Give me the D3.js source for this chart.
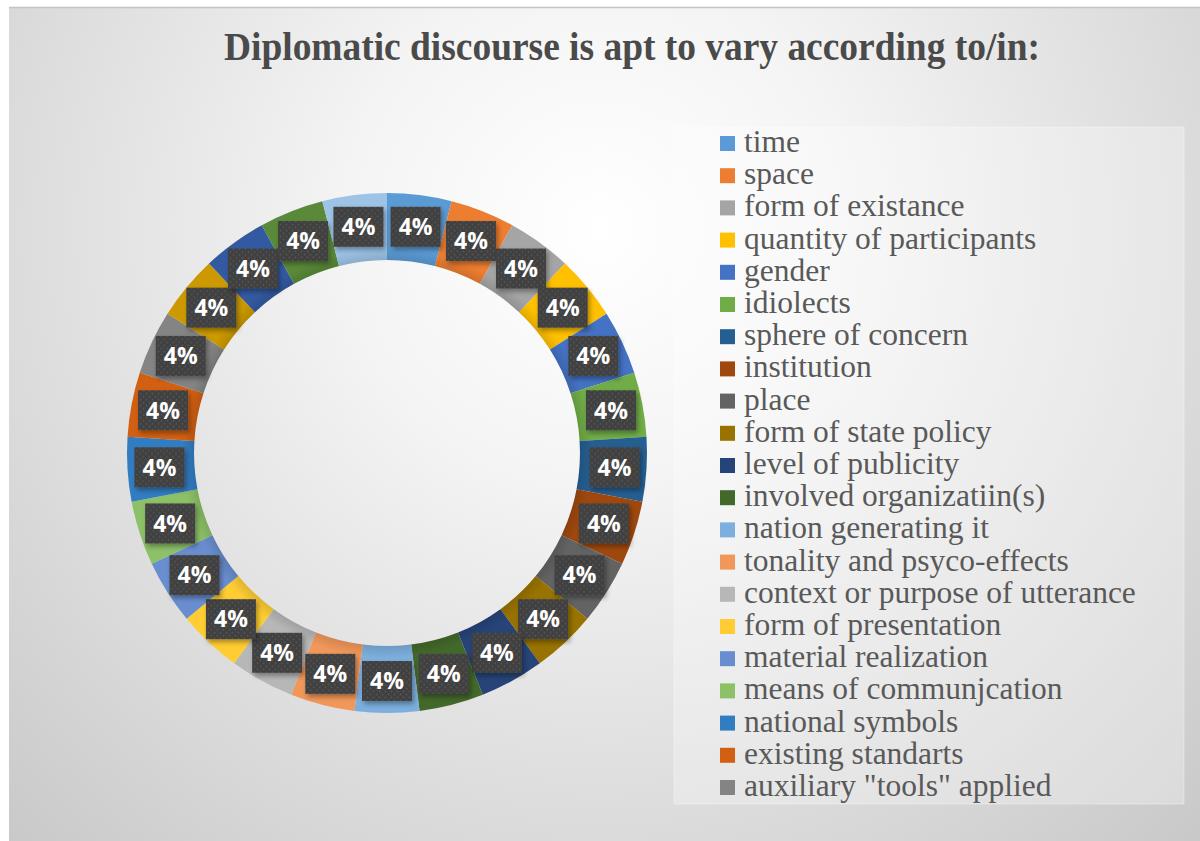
<!DOCTYPE html>
<html>
<head>
<meta charset="utf-8">
<script src="https://cdn.jsdelivr.net/npm/d3@7"></script>
<style>
  html, body { margin: 0; padding: 0; background: #ffffff; }
  svg { display: block; }
</style>
</head>
<body>
<svg id="chart" width="1200" height="841"></svg>
<script>
// ---- data ----
const title = "Diplomatic discourse is apt to vary according to/in:";
const categories = [
  "time", "space", "form of existance", "quantity of participants", "gender",
  "idiolects", "sphere of concern", "institution", "place", "form of state policy",
  "level of publicity", "involved organizatiin(s)", "nation generating it",
  "tonality and psyco-effects", "context or purpose of utterance", "form of presentation",
  "material realization", "means of communjcation", "national symbols",
  "existing standarts", "auxiliary \"tools\" applied",
  "(not shown in legend 22)", "(not shown in legend 23)", "(not shown in legend 24)", "(not shown in legend 25)"
];
const values = [4,4,4,4,4,4,4,4,4,4,4,4,4,4,4,4,4,4,4,4,4,4,4,4,4];
const legendCount = 21; // legend box only shows the first 21 entries
const colors = [
  "#5B9BD5", "#ED7D31", "#A5A5A5", "#FFC000", "#4472C4", "#70AD47",
  "#255E91", "#9E480E", "#636363", "#997300", "#264478", "#43682B",
  "#7CAFDD", "#F1975A", "#B7B7B7", "#FFCD33", "#698ED0", "#8CC168",
  "#327DC2", "#D26012", "#848484", "#CC9A00", "#335AA1", "#5A8A39", "#9DC3E6"
];

// ---- drawing ----
const svg = d3.select("#chart");
const defs = svg.append("defs");

const bg = defs.append("radialGradient").attr("id", "bg")
  .attr("gradientUnits", "userSpaceOnUse")
  .attr("cx", 600).attr("cy", 230).attr("r", 850);
bg.append("stop").attr("offset", "0").attr("stop-color", "#ffffff");
bg.append("stop").attr("offset", "0.3").attr("stop-color", "#f4f4f4");
bg.append("stop").attr("offset", "1").attr("stop-color", "#c9c9c9");

const pat = defs.append("pattern").attr("id", "dots")
  .attr("patternUnits", "userSpaceOnUse").attr("width", 6).attr("height", 6);
pat.append("rect").attr("width", 6).attr("height", 6).attr("fill", "#404040");
pat.append("circle").attr("cx", 1.5).attr("cy", 1.5).attr("r", 0.9).attr("fill", "#575757");
pat.append("circle").attr("cx", 4.5).attr("cy", 4.5).attr("r", 0.9).attr("fill", "#575757");

const sh = defs.append("filter").attr("id", "shadow")
  .attr("x", "-30%").attr("y", "-30%").attr("width", "160%").attr("height", "160%");
sh.append("feDropShadow").attr("dx", 2).attr("dy", 3).attr("stdDeviation", 2.5)
  .attr("flood-color", "#000").attr("flood-opacity", 0.35);

// chart area
svg.append("rect").attr("x", 9).attr("y", 7).attr("width", 1191).attr("height", 834)
  .attr("fill", "url(#bg)");
svg.append("line").attr("x1", 9).attr("x2", 1200).attr("y1", 7.5).attr("y2", 7.5)
  .attr("stroke", "#c4c4c4").attr("stroke-width", 1.5);

// title
svg.append("text")
  .attr("x", 632).attr("y", 60)
  .attr("text-anchor", "middle")
  .attr("font-family", "'Liberation Serif', 'Times New Roman', serif")
  .attr("font-weight", "bold")
  .attr("font-size", 39)
  .attr("fill", "#4a4a4a")
  .attr("textLength", 816)
  .attr("lengthAdjust", "spacingAndGlyphs")
  .text(title);

// donut
const cx = 387, cy = 453, rOuter = 260, rInner = 193, rLabel = 228;
const pie = d3.pie().sort(null).value(d => d)(values);
const arc = d3.arc().innerRadius(rInner).outerRadius(rOuter);
const labelArc = d3.arc().innerRadius(rLabel).outerRadius(rLabel);
const color = d3.scaleOrdinal().domain(d3.range(values.length)).range(colors);

const g = svg.append("g").attr("transform", `translate(${cx},${cy})`);
g.selectAll("path.slice").data(pie).join("path")
  .attr("class", "slice")
  .attr("d", arc)
  .attr("fill", (d, i) => color(i))
  .attr("stroke", "none");

// subtle shade on the ring's inner edge
const ringShade = defs.append("radialGradient").attr("id", "ringShade")
  .attr("gradientUnits", "userSpaceOnUse").attr("cx", 0).attr("cy", 0).attr("r", rOuter);
ringShade.append("stop").attr("offset", rInner / rOuter).attr("stop-color", "#000").attr("stop-opacity", 0.12);
ringShade.append("stop").attr("offset", (rInner + 12) / rOuter).attr("stop-color", "#000").attr("stop-opacity", 0);
ringShade.append("stop").attr("offset", 1).attr("stop-color", "#000").attr("stop-opacity", 0);
g.append("path")
  .attr("d", d3.arc().innerRadius(rInner).outerRadius(rOuter).startAngle(0).endAngle(2 * Math.PI)())
  .attr("fill", "url(#ringShade)");

// data labels
const total = d3.sum(values);
const fmt = d3.format(".0%");
const lab = g.selectAll("g.lab").data(pie).join("g")
  .attr("class", "lab")
  .attr("transform", d => `translate(${labelArc.centroid(d)})`);
lab.append("rect")
  .attr("x", -25).attr("y", -20).attr("width", 50).attr("height", 40)
  .attr("fill", "url(#dots)")
  .attr("filter", "url(#shadow)");
lab.append("text")
  .attr("text-anchor", "middle")
  .attr("dy", "0.36em")
  .attr("font-family", "'Open Sans', 'DejaVu Sans', sans-serif")
  .attr("font-weight", "bold")
  .attr("font-size", 23)
  .attr("fill", "#ffffff")
  .text(d => fmt(d.data / total));

// legend
svg.append("rect").attr("x", 674).attr("y", 127).attr("width", 510).attr("height", 677)
  .attr("fill", "#ffffff").attr("fill-opacity", 0.3)
  .attr("stroke", "#ffffff").attr("stroke-opacity", 0.35);

const ly = d3.scalePoint().domain(d3.range(legendCount)).range([143, 787]);
const leg = svg.append("g").selectAll("g").data(categories.slice(0, legendCount)).join("g")
  .attr("transform", (d, i) => `translate(0,${ly(i)})`);
leg.append("rect")
  .attr("x", 720).attr("y", -7).attr("width", 15).attr("height", 15)
  .attr("fill", (d, i) => color(i));
leg.append("text")
  .attr("x", 744).attr("y", 9)
  .attr("font-family", "'Liberation Serif', 'Times New Roman', serif")
  .attr("font-size", 31.5)
  .attr("fill", "#595959")
  .text(d => d);
</script>
</body>
</html>
